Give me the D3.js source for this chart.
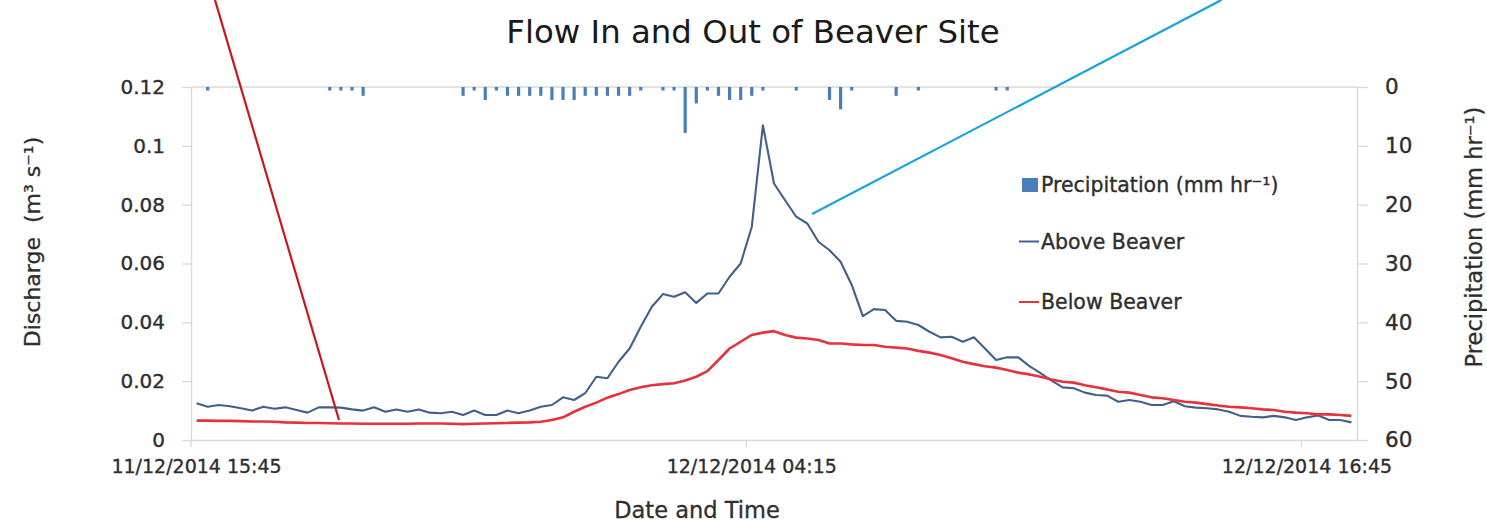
<!DOCTYPE html>
<html><head><meta charset="utf-8">
<script src="https://cdn.jsdelivr.net/npm/d3@7"></script>
<style>
html,body{margin:0;padding:0;background:#fff;}
svg{display:block;font-family:"DejaVu Sans",sans-serif;}
</style></head><body>
<svg id="c" width="1487" height="522"></svg>
<script>
// ---- data (15-minute intervals starting 11/12/2014 15:45) ----
const aboveBeaver = [
 0.0125,0.0113,0.0119,0.0115,0.0108,0.0100,0.0113,0.0106,0.0111,0.0102,
 0.0093,0.0111,0.0111,0.0110,0.0104,0.0100,0.0111,0.0096,0.0104,0.0096,
 0.0104,0.0093,0.0091,0.0096,0.0085,0.0100,0.0085,0.0085,0.0100,0.0091,
 0.0100,0.0113,0.0119,0.0145,0.0136,0.0159,0.0215,0.0210,0.0266,0.0311,
 0.0385,0.0453,0.0496,0.0487,0.0502,0.0466,0.0498,0.0498,0.0555,0.0600,
 0.0725,0.1070,0.0872,0.0815,0.0759,0.0736,0.0674,0.0645,0.0606,0.0527,
 0.0421,0.0445,0.0442,0.0405,0.0402,0.0391,0.0368,0.0349,0.0351,0.0334,
 0.0349,0.0311,0.0272,0.0281,0.0281,0.0251,0.0227,0.0202,0.0179,0.0176,
 0.0161,0.0153,0.0151,0.0130,0.0136,0.0130,0.0119,0.0119,0.0132,0.0115,
 0.0110,0.0108,0.0104,0.0096,0.0082,0.0079,0.0077,0.0082,0.0077,0.0068,
 0.0077,0.0083,0.0068,0.0068,0.0060
];
const belowBeaver = [
 0.0066,0.0066,0.0065,0.0065,0.0064,0.0063,0.0063,0.0062,0.0060,0.0059,
 0.0058,0.0058,0.0057,0.0056,0.0056,0.0055,0.0055,0.0055,0.0055,0.0055,
 0.0056,0.0056,0.0056,0.0055,0.0054,0.0055,0.0056,0.0057,0.0058,0.0059,
 0.0060,0.0062,0.0068,0.0077,0.0096,0.0113,0.0127,0.0144,0.0156,0.0170,
 0.0179,0.0186,0.0190,0.0193,0.0202,0.0215,0.0234,0.0272,0.0311,0.0334,
 0.0357,0.0365,0.0370,0.0357,0.0348,0.0345,0.0340,0.0328,0.0328,0.0325,
 0.0323,0.0323,0.0317,0.0314,0.0311,0.0303,0.0297,0.0289,0.0278,0.0266,
 0.0258,0.0251,0.0246,0.0238,0.0229,0.0223,0.0215,0.0206,0.0198,0.0195,
 0.0186,0.0179,0.0172,0.0164,0.0161,0.0153,0.0145,0.0142,0.0136,0.0130,
 0.0127,0.0122,0.0117,0.0113,0.0111,0.0108,0.0104,0.0102,0.0096,0.0093,
 0.0091,0.0087,0.0087,0.0085,0.0082
];
const precipitation = [
 0,0.6,0,0,0,0,0,0,0,0,
 0,0,0.6,0.6,0.6,1.5,0,0,0,0,
 0,0,0,0,1.5,0.6,2.2,0.6,1.5,1.5,
 1.5,1.5,2.2,2.2,2.2,1.5,1.5,1.5,1.5,1.5,
 0.6,0,0.6,0.6,7.8,2.8,0.6,1.5,2.2,2.2,
 1.5,0.6,0,0,0.6,0,0,2.2,3.8,0.6,
 0,0,0,1.5,0,0.6,0,0,0,0,
 0,0,0.6,0.6,0,0,0,0,0,0,
 0,0,0,0,0,0,0,0,0,0,
 0,0,0,0,0,0,0,0,0,0,
 0,0,0,0,0
];
const tickLabels = ["11/12/2014 15:45", "12/12/2014 04:15", "12/12/2014 16:45"];
const dischargeTicks = [0, 0.02, 0.04, 0.06, 0.08, 0.1, 0.12];
const precipTicks = [0, 10, 20, 30, 40, 50, 60];
const seriesNames = ["Precipitation (mm hr\u207B\u00B9)", "Above Beaver", "Below Beaver"];
const seriesColors = ["#4a7ebb", "#41608a", "#e6323a"];
// callout lines from outside the chart: [category index, discharge]
const callouts = [
  {from:[2.16, 0.1496], to:[13.33, 0.0068], color:"#c8161e"},
  {from:[92.8, 0.1496], to:[55.93, 0.0768], color:"#18a2e0"}
];

const fmt = d3.timeFormat("%d/%m/%Y %H:%M");
const start = new Date(2014, 11, 11, 15, 45);
const categories = d3.range(aboveBeaver.length).map(i => fmt(d3.timeMinute.offset(start, 15 * i)));

const svg = d3.select("#c");
svg.append("rect").attr("width",1487).attr("height",522).attr("fill","#fff");

const L = 191, R = 1357, T = 87, B = 440;
const x = d3.scaleBand().domain(categories).range([L, R]).padding(0);
const bw = x.bandwidth();
const xi = d3.scaleLinear().domain([0, categories.length]).range([L, R]);
const yL = d3.scaleLinear().domain([0, 0.12]).range([B, T]);
const yR = d3.scaleLinear().domain([0, 60]).range([T, B]);
const axisColor = "#d9d9d9", textColor = "#2e2e2e";

// top line (secondary horizontal axis)
svg.append("line").attr("x1", L).attr("x2", R).attr("y1", yL(0.12)).attr("y2", yL(0.12))
  .attr("stroke", axisColor).attr("stroke-width", 1.3);

// bottom axis
const gx = svg.append("g").attr("transform", `translate(0,${B})`)
  .call(d3.axisBottom(x).tickValues(tickLabels).tickSize(7).tickSizeOuter(0));
gx.selectAll(".tick line").attr("x1", -bw/2).attr("x2", -bw/2);
gx.selectAll(".tick text").attr("y", 33).attr("dy", 0).style("font-size", "19px");

// left axis
const gl = svg.append("g").attr("transform", `translate(${L},0)`)
  .call(d3.axisLeft(yL).tickValues(dischargeTicks).tickSize(9).tickPadding(17).tickSizeOuter(0)
    .tickFormat(d => String(+d.toFixed(2))));
gl.selectAll(".tick text").style("font-size", "20px");

// right axis
const gr = svg.append("g").attr("transform", `translate(${R},0)`)
  .call(d3.axisRight(yR).tickValues(precipTicks).tickSize(11).tickPadding(17).tickSizeOuter(0));
gr.selectAll(".tick text").style("font-size", "21.5px");

[gx, gl, gr].forEach(g => {
  g.selectAll(".domain").attr("stroke", axisColor).attr("stroke-width", 1.3);
  g.selectAll(".tick line").attr("stroke", axisColor).attr("stroke-width", 1.3);
  g.selectAll(".tick text").attr("fill", textColor).style("font-family", '"DejaVu Sans",sans-serif')
    .attr("stroke", textColor).attr("stroke-width", 0.35);
});

// precipitation bars (hanging from top, reversed axis)
const barW = 3.2;
svg.append("g").selectAll("rect")
  .data(precipitation.map((v, i) => ({v, c: categories[i]})).filter(d => d.v > 0))
  .join("rect")
  .attr("x", d => x(d.c) + bw/2 - barW/2)
  .attr("width", barW)
  .attr("y", yR(0))
  .attr("height", d => yR(d.v) - yR(0))
  .attr("fill", seriesColors[0]);

// lines
const line = d3.line().x((d, i) => x(categories[i]) + bw/2).y(d => yL(d));
svg.append("path").datum(aboveBeaver).attr("d", line).attr("fill", "none")
  .attr("stroke", seriesColors[1]).attr("stroke-width", 2.1).attr("stroke-linejoin", "round");
svg.append("path").datum(belowBeaver).attr("d", line).attr("fill", "none")
  .attr("stroke", seriesColors[2]).attr("stroke-width", 2.6).attr("stroke-linejoin", "round");

// legend
const leg = svg.append("g").attr("transform", "translate(1021,0)");
const legY = [185, 241.5, 302];
const legBase = [192, 248.5, 308.5];
leg.append("rect").attr("x", 1).attr("y", legY[0] - 7).attr("width", 16).attr("height", 14).attr("fill", seriesColors[0]);
[1, 2].forEach(k => leg.append("line").attr("x1", -2).attr("x2", 18).attr("y1", legY[k]).attr("y2", legY[k])
  .attr("stroke", seriesColors[k]).attr("stroke-width", 2));
seriesNames.forEach((n, k) => leg.append("text").attr("x", 20).attr("y", legBase[k])
  .attr("fill", textColor).attr("stroke", textColor).attr("stroke-width", 0.35)
  .style("font-size", "20.5px").text(n));

// titles
svg.append("text").attr("x", 753).attr("y", 43).attr("text-anchor", "middle")
  .attr("fill", "#1a1a1a").style("font-size", "32.4px").text("Flow In and Out of Beaver Site");
svg.append("text").attr("x", 697).attr("y", 518).attr("text-anchor", "middle")
  .attr("fill", textColor).attr("stroke", textColor).attr("stroke-width", 0.3)
  .style("font-size", "22.5px").text("Date and Time");
svg.append("text").attr("transform", "translate(40,242) rotate(-90)").attr("text-anchor", "middle")
  .attr("fill", textColor).attr("stroke", textColor).attr("stroke-width", 0.3)
  .style("font-size", "22px").style("white-space", "pre")
  .text("Discharge  (m\u00B3 s\u207B\u00B9)");
svg.append("text").attr("transform", "translate(1482,237) rotate(-90)").attr("text-anchor", "middle")
  .attr("fill", textColor).attr("stroke", textColor).attr("stroke-width", 0.3)
  .style("font-size", "22.5px").text("Precipitation (mm hr\u207B\u00B9)");

// callout lines
callouts.forEach(c => svg.append("line")
  .attr("x1", xi(c.from[0])).attr("y1", yL(c.from[1]))
  .attr("x2", xi(c.to[0])).attr("y2", yL(c.to[1]))
  .attr("stroke", c.color).attr("stroke-width", 2.2));
</script>
</body></html>
